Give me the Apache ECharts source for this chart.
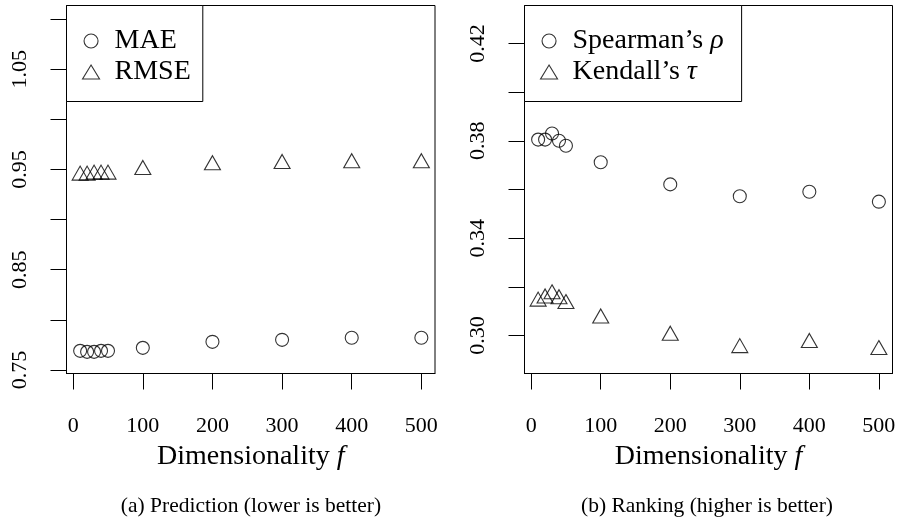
<!DOCTYPE html>
<html>
<head>
<meta charset="utf-8">
<script src="https://cdn.jsdelivr.net/npm/echarts@6/dist/echarts.min.js"></script>
<style>
  html, body { margin: 0; padding: 0; background: #fff; }
  #chart { width: 901px; height: 523px; }
</style>
</head>
<body>
<div id="chart"></div>
<script>
// Latent dimensionality f used for each run
const dims = [10, 20, 30, 40, 50, 100, 200, 300, 400, 500];

// (a) prediction error
const mae  = [0.769, 0.768, 0.768, 0.769, 0.769, 0.772, 0.778, 0.780, 0.782, 0.782];
const rmse = [0.944, 0.944, 0.945, 0.945, 0.945, 0.9497, 0.9544, 0.9557, 0.9564, 0.9564];

// (b) ranking correlation
const spearman = [0.3805, 0.3805, 0.383, 0.380, 0.378, 0.3712, 0.3621, 0.3572, 0.3591, 0.3550];
const kendall  = [0.3140, 0.3153, 0.3170, 0.3150, 0.3130, 0.3071, 0.3000, 0.2949, 0.2970, 0.2941];

// Axis ticks and labels
const xTicks = [0, 100, 200, 300, 400, 500];
const yTicksA = [0.75, 0.80, 0.85, 0.90, 0.95, 1.00, 1.05, 1.10];
const yLabelsA = [0.75, 0.85, 0.95, 1.05];
const yTicksB = [0.30, 0.32, 0.34, 0.36, 0.38, 0.40, 0.42];
const yLabelsB = [0.30, 0.34, 0.38, 0.42];

const FONT = '"Liberation Serif", "DejaVu Serif", serif';
const INK = '#000';
const TICK_FS = 22;
const TEXT_FS = 28;

const pair = (xs, ys) => xs.map((x, i) => [x, ys[i]]);

const hollow = { color: 'rgba(0,0,0,0)', borderColor: INK, borderWidth: 1.1 };
const CIRCLE = 13;
const TRI = [16, 14];
const TRI_OFF = [0, -TRI[1] / 6];   // put the triangle's centroid on the data point

const axisLine = { show: true, onZero: false, lineStyle: { color: INK, width: 1 } };
const tick = values => ({ show: true, inside: false, length: 16, customValues: values, lineStyle: { color: INK, width: 1 } });

function xAxisFor(gridIndex) {
  return {
    gridIndex, type: 'value', min: -9.6, max: 519.6, position: 'bottom',
    axisLine,
    splitLine: { show: false },
    axisTick: tick(xTicks),
    axisLabel: {
      show: true, customValues: xTicks, margin: 42, color: INK, fontFamily: FONT, fontSize: TICK_FS,
      formatter: v => String(v)
    },
    name: '{n|Dimensionality }{i|f}', nameLocation: 'middle', nameGap: 64,
    nameTextStyle: {
      rich: {
        n: { fontFamily: FONT, fontSize: TEXT_FS, color: INK },
        i: { fontFamily: FONT, fontSize: TEXT_FS, color: INK, fontStyle: 'italic' }
      }
    }
  };
}

function yAxisFor(gridIndex, min, max, ticks, labels, digits) {
  return {
    gridIndex, type: 'value', min, max, position: 'left',
    axisLine,
    splitLine: { show: false },
    axisTick: tick(ticks),
    axisLabel: {
      show: true, customValues: labels, rotate: 90, margin: 35, color: INK, fontFamily: FONT, fontSize: TICK_FS,
      formatter: v => Number(v).toFixed(digits)
    }
  };
}

const legendText = {
  fontFamily: FONT, fontSize: TEXT_FS, lineHeight: 28, color: INK, padding: [0, 0, 0, 10],
  rich: {
    n: { fontFamily: FONT, fontSize: TEXT_FS, lineHeight: 28, color: INK },
    i: { fontFamily: FONT, fontSize: TEXT_FS, lineHeight: 28, color: INK, fontStyle: 'italic' }
  }
};

function legendFor(left, names, right) {
  return {
    left, top: 5.5, orient: 'vertical',
    backgroundColor: '#fff', borderColor: INK, borderWidth: 1, borderRadius: 0,
    padding: [21.5, right, 15.5, 15.5], itemGap: 3, itemWidth: 17, itemHeight: 14,
    symbolKeepAspect: false,
    selectedMode: false,
    textStyle: legendText,
    formatter: name => {
      const m = name.match(/^(.*\s)(\S)$/);
      return m && /[ρτ]/.test(m[2]) ? '{n|' + m[1] + '}{i|' + m[2] + '}' : '{n|' + name + '}';
    },
    data: [
      { name: names[0], icon: 'circle', itemStyle: hollow },
      { name: names[1], icon: 'triangle', itemStyle: hollow }
    ]
  };
}

const chart = echarts.init(document.getElementById('chart'), null, { renderer: 'canvas' });
chart.setOption({
  animation: false,
  backgroundColor: '#fff',
  grid: [
    { left: 66.5, top: 5.5, width: 368.5, height: 368, show: true, borderColor: INK, borderWidth: 1, backgroundColor: 'transparent' },
    { left: 524.5, top: 5.5, width: 368, height: 368, show: true, borderColor: INK, borderWidth: 1, backgroundColor: 'transparent' }
  ],
  xAxis: [xAxisFor(0), xAxisFor(1)],
  yAxis: [
    yAxisFor(0, 0.7464, 1.1136, yTicksA, yLabelsA, 2),
    yAxisFor(1, 0.2844, 0.4356, yTicksB, yLabelsB, 2)
  ],
  legend: [
    legendFor(66.5, ['MAE', 'RMSE'], 12),
    legendFor(524.5, ['Spearman’s ρ', 'Kendall’s τ'], 18)
  ],
  series: [
    { name: 'MAE', type: 'scatter', xAxisIndex: 0, yAxisIndex: 0, data: pair(dims, mae),
      symbol: 'circle', symbolSize: CIRCLE, itemStyle: hollow, z: 1 },
    { name: 'RMSE', type: 'scatter', xAxisIndex: 0, yAxisIndex: 0, data: pair(dims, rmse),
      symbol: 'triangle', symbolSize: TRI, symbolOffset: TRI_OFF, itemStyle: hollow, z: 1 },
    { name: 'Spearman’s ρ', type: 'scatter', xAxisIndex: 1, yAxisIndex: 1, data: pair(dims, spearman),
      symbol: 'circle', symbolSize: CIRCLE, itemStyle: hollow, z: 1 },
    { name: 'Kendall’s τ', type: 'scatter', xAxisIndex: 1, yAxisIndex: 1, data: pair(dims, kendall),
      symbol: 'triangle', symbolSize: TRI, symbolOffset: TRI_OFF, itemStyle: hollow, z: 1 }
  ],
  graphic: [
    { type: 'text', style: { text: '(a) Prediction (lower is better)', fontFamily: FONT, fontSize: 21.5, fill: INK, align: 'center', verticalAlign: 'middle', x: 251, y: 506 } },
    { type: 'text', style: { text: '(b) Ranking (higher is better)', fontFamily: FONT, fontSize: 21.5, fill: INK, align: 'center', verticalAlign: 'middle', x: 707, y: 506 } }
  ]
});
</script>
</body>
</html>
